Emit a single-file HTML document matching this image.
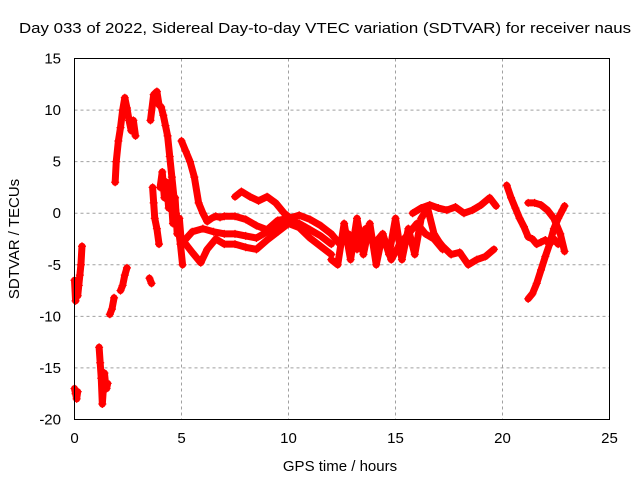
<!DOCTYPE html>
<html><head><meta charset="utf-8"><style>
body{margin:0;background:#fff}
svg text{font-family:"Liberation Sans",sans-serif;font-size:15px;fill:#000}
</style></head><body>
<svg id="chart" width="640" height="480" xmlns="http://www.w3.org/2000/svg">
<rect width="640" height="480" fill="#fff"/>
<text x="325" y="33" text-anchor="middle" textLength="612" lengthAdjust="spacingAndGlyphs">Day 033 of 2022, Sidereal Day-to-day VTEC variation (SDTVAR) for receiver naus</text>
<g id="grid"></g>
<g id="axes"></g>
<g id="marks"></g>
<rect x="74.5" y="58.5" width="535" height="361" fill="none" stroke="#000" stroke-width="1"/>
<text x="340" y="471" text-anchor="middle">GPS time / hours</text>
<text transform="translate(19,239) rotate(-90)" text-anchor="middle">SDTVAR / TECUs</text>
</svg>
<script>
const xTicks=[0,5,10,15,20,25];
const yTicks=[15,10,5,0,-5,-10,-15,-20];
// tracks: times and values
const tA=[0.0,0.05,0.1,0.15,0.2,0.25,0.3,0.35];
const vA=[-6.5,-8.5,-7.5,-8,-7,-6,-5,-3.2];
const tB=[0.0,0.05,0.1,0.15];
const vB=[-17,-17.5,-18,-17.3];
const tC=[1.15,1.2,1.25,1.3,1.35,1.4,1.45,1.5,1.55];
const vC=[-13,-14.5,-16,-18.5,-17,-15.5,-16.5,-17,-16.5];
const tD1=[1.65,1.75,1.85];
const vD1=[-9.8,-9.3,-8.2];
const tD=[1.9,1.95,2.05,2.15,2.25,2.35,2.45,2.55,2.65,2.75,2.85];
const vD=[3.0,5.0,7.0,8.3,10.0,11.2,10.2,9.0,8.0,9.0,7.5];
const tE=[2.15,2.25,2.35,2.45];
const vE=[-7.5,-7,-6,-5.3];
const tE2=[3.5,3.6];
const vE2=[-6.3,-6.8];
const tF=[3.65,3.7,3.75,3.85,3.95];
const vF=[2.5,1,-0.5,-1.5,-3];
const tG=[3.55,3.7,3.85,3.95,4.05,4.15,4.25,4.35,4.45,4.55,4.65,4.75,4.85,4.95,5.05];
const vG=[9,11.5,11.8,10.5,10.3,9.5,8.5,7.5,5.5,3.5,1.5,0,-1.5,-3,-5];
const tH=[4.0,4.1,4.2,4.3,4.4,4.5,4.6,4.7,4.8,4.9,5.0];
const vH=[2.5,4,1.5,3,0.5,2,-1,1.5,-2,-0.5,-3];
const tI=[5.0,5.2,5.4,5.6,5.8,6.0,6.2,6.4,6.6,6.8,7.0,7.5,8.0,8.5,9.0,9.5,10.0,10.5,11.0,11.5,12.0];
const vI=[7,6,5,3.5,1,0,-0.8,-0.5,-0.3,-0.4,-0.3,-0.3,-0.6,-1.2,-1.6,-0.7,-0.5,-0.2,-0.6,-1.2,-2];
const tJ=[5.2,5.5,6.0,6.5,7.0,7.5,8.0,8.5,9.0,9.5,10.0,10.5,11.0,11.5,12.0];
const vJ=[-2.5,-1.8,-1.5,-1.8,-2,-2,-2.2,-2.4,-1.8,-1.0,-0.6,-1.0,-1.6,-2.2,-3];
const tK=[5.2,5.5,5.9,6.2,6.6,7.0,7.5,8.0,8.5,9.0,9.5,10.0,10.5,11.0,11.5,12.0];
const vK=[-3,-3.8,-4.8,-3.5,-2.5,-3,-3,-3.3,-3.5,-2.6,-1.8,-1.0,-1.4,-2.4,-3.2,-4];
const tL=[7.5,7.8,8.2,8.6,9.0,9.4,9.8,10.1];
const vL=[1.6,2.1,1.6,1.2,1.6,1.0,0,-0.5];
const tM=[12.0,12.3,12.6,12.9,13.2,13.5,13.8,14.1,14.4,14.7,15.0,15.3,15.6,15.9,16.2,16.5,16.8,17.1];
const vM=[-4.5,-5,-1,-4.5,-0.5,-4,-1,-5,-2,-4,-0.5,-4.5,-1.5,-4,-0.5,0.5,-2,-3];
const tN=[12.0,12.4,12.8,13.2,13.6,14.0,14.4,14.8,15.2,15.6,16.0,16.4,16.8,17.2];
const vN=[-2,-3,-2,-3.5,-1.5,-3,-2,-4.5,-3,-2,-1,-2,-2.5,-3.5];
const tO=[15.8,16.2,16.6,17.0,17.4,17.8,18.2,18.6,19.0,19.4,19.7];
const vO=[0,0.5,0.8,0.5,0.3,0.6,0,0.3,0.8,1.5,0.7];
const tP=[16.8,17.2,17.6,18.0,18.4,18.8,19.2,19.6];
const vP=[-2.2,-3.2,-4,-3.8,-5,-4.5,-4.2,-3.5];
const tQ=[20.2,20.4,20.6,20.8,21.0,21.2,21.4,21.6,21.8,22.0,22.2,22.4,22.6];
const vQ=[2.7,1.5,0.5,-0.5,-1.3,-2.3,-2.5,-3,-2.8,-2.6,-3,-2.5,-3];
const tR=[21.2,21.5,21.8,22.1,22.4,22.7,22.9];
const vR=[1,1,0.8,0.3,-0.5,-2,-3.7];
const tS=[21.2,21.4,21.6,21.8,22.0,22.2,22.4,22.6,22.8,22.9];
const vS=[-8.3,-7.8,-6.8,-5.5,-4.2,-3,-1.5,-0.5,0.3,0.7];
const tracks=[[tA,vA],[tB,vB],[tC,vC],[tD1,vD1],[tD,vD],[tE,vE],[tE2,vE2],[tF,vF],[tG,vG],[tH,vH],[tI,vI],[tJ,vJ],[tK,vK],[tL,vL],[tM,vM],[tN,vN],[tO,vO],[tP,vP],[tQ,vQ],[tR,vR],[tS,vS]];
const X=t=>74.5+t*21.4;
const Y=v=>58.5+(15-v)*361/35;
const NS="http://www.w3.org/2000/svg";
const grid=document.getElementById('grid'),axes=document.getElementById('axes'),marks=document.getElementById('marks');
function mk(tag,attrs,parent){const e=document.createElementNS(NS,tag);for(const k in attrs)e.setAttribute(k,attrs[k]);parent.appendChild(e);return e;}
xTicks.forEach(t=>{
  if(t>0&&t<25){const g=mk('line',{x1:X(t),x2:X(t),y1:58.5,y2:419.5,stroke:'#a0a0a0','stroke-dasharray':'3,3'},grid);
  
  }
  const l=mk('text',{x:X(t),y:443,'text-anchor':'middle'},axes);l.textContent=t;
  
  
});
yTicks.forEach(v=>{
  if(v<15&&v>-20){const g=mk('line',{x1:74.5,x2:609.5,y1:Y(v),y2:Y(v),stroke:'#a0a0a0','stroke-dasharray':'3,3'},grid);
  
  }
  const l=mk('text',{x:61,y:Y(v)+5,'text-anchor':'end'},axes);l.textContent=v;
  
  
});
tracks.forEach(([ts,vs])=>{
  const pts=ts.map((t,i)=>X(t)+','+Y(vs[i])).join(' ');
  const pl=mk('polyline',{points:pts,fill:'none',stroke:'#f00','stroke-width':7,'stroke-linejoin':'round','stroke-linecap':'round'},marks);
  
  
  ts.forEach((t,i)=>{
    const x=X(t),y=Y(vs[i]);
    const p=mk('path',{d:`M${x-4},${y}H${x+4}M${x},${y-4}V${y+4}`,stroke:'#f00','stroke-width':1.2},marks);
    
    
  });
});
</script>
</body></html>
